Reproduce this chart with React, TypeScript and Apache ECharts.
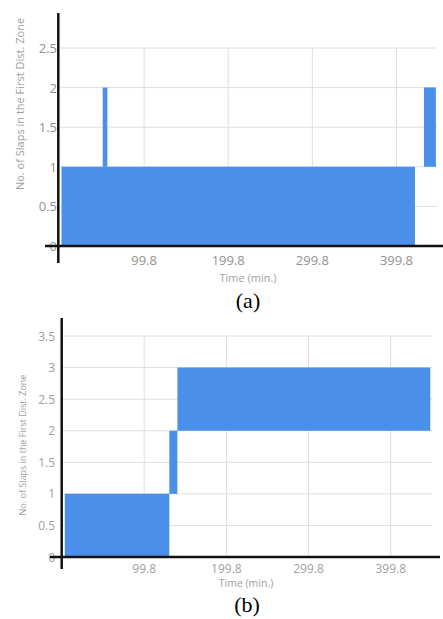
import React, { useEffect, useRef } from "react";
import * as echarts from "echarts";

// ---- data ----
const xTickLabels = [99.8, 199.8, 299.8, 399.8];
const xMin = -0.2;
const xMaxA = 448;
const xMaxB = 450;
const yTicksA = [0, 0.5, 1, 1.5, 2, 2.5];
const yTicksB = [0, 0.5, 1, 1.5, 2, 2.5, 3, 3.5];
// [startTime, endTime, lowCount, highCount]
const blocksA = [
  [1.6, 421.8, 0, 1],
  [50.6, 56.1, 1, 2],
  [432.5, 446.7, 1, 2],
];
const blocksB = [
  [3.2, 130.4, 0, 1],
  [130.4, 140.2, 1, 2],
  [140.2, 447.9, 2, 3],
];
const yTitle = "No. of Slaps in the First Dist. Zone";
const xTitle = "Time (min.)";

const BLUE = "#4A8FEA";
const GRID = "#dedede";
const FONT = "'Open Sans', sans-serif";

function rectRender(params: any, api: any) {
  const p0 = api.coord([api.value(0), api.value(3)]);
  const p1 = api.coord([api.value(1), api.value(2)]);
  return {
    type: "rect",
    shape: { x: p0[0], y: p0[1], width: p1[0] - p0[0], height: p1[1] - p0[1] },
    style: { fill: BLUE },
  };
}

function hLineRender(params: any, api: any) {
  const y = api.coord([api.value(0), api.value(1)])[1];
  const cs = params.coordSys;
  return {
    type: "line",
    shape: { x1: cs.x, y1: y, x2: cs.x + cs.width, y2: y },
    style: { stroke: GRID, lineWidth: 1 },
  };
}

function vLineRender(params: any, api: any) {
  const x = api.coord([api.value(0), api.value(1)])[0];
  const cs = params.coordSys;
  return {
    type: "line",
    shape: { x1: x, y1: cs.y, x2: x, y2: cs.y + cs.height },
    style: { stroke: GRID, lineWidth: 1 },
  };
}

function axesRender(ext: number[]) {
  // ext: [yAxisDx, topExt, bottomExt, xLeftExt, xRightEnd]
  return (params: any) => {
    const cs = params.coordSys;
    const bottom = cs.y + cs.height;
    return {
      type: "group",
      children: [
        {
          type: "line",
          shape: { x1: cs.x + ext[0], y1: cs.y - ext[1], x2: cs.x + ext[0], y2: bottom + ext[2] },
          style: { stroke: "#111", lineWidth: 2.5 },
        },
        {
          type: "line",
          shape: { x1: cs.x - ext[3], y1: bottom, x2: ext[4], y2: bottom },
          style: { stroke: "#111", lineWidth: 2.5 },
        },
      ],
    };
  };
}

const xFmt = (v: number) => {
  const r = Math.round(v * 10) / 10;
  return xTickLabels.includes(r) ? r.toFixed(1) : "";
};

export default function App() {
  const ref = useRef<HTMLDivElement>(null);
  useEffect(() => {
    if (!ref.current) return;
    const chart = echarts.init(ref.current, null, { renderer: "svg" });
    chart.setOption({
      animation: false,
      backgroundColor: "#ffffff",
      grid: [
        { left: 60, right: 6, top: 48, bottom: 373 },
        { left: 62, right: 11, top: 336, bottom: 62 },
      ],
      xAxis: [
        {
          gridIndex: 0, type: "value", min: xMin, max: xMaxA, interval: 100,
          axisLine: { show: false }, axisTick: { show: false }, splitLine: { show: false },
          axisLabel: { formatter: xFmt, color: "#929292", fontSize: 13, margin: 7, fontFamily: FONT },
        },
        {
          gridIndex: 1, type: "value", min: xMin, max: xMaxB, interval: 100,
          axisLine: { show: false }, axisTick: { show: false }, splitLine: { show: false },
          axisLabel: { formatter: xFmt, color: "#a0a0a0", fontSize: 12, margin: 5, fontFamily: FONT },
        },
      ],
      yAxis: [
        {
          gridIndex: 0, type: "value", min: 0, max: 2.5, interval: 0.5,
          axisLine: { show: false }, axisTick: { show: false }, splitLine: { show: false },
          axisLabel: { color: "#929292", fontSize: 13, margin: 3, fontFamily: FONT, padding: [0, 0, 4, 0] },
        },
        {
          gridIndex: 1, type: "value", min: 0, max: 3.5, interval: 0.5,
          axisLabel: { color: "#a0a0a0", fontSize: 12, margin: 7, fontFamily: FONT, padding: [0, 0, 3, 0] },
          axisLine: { show: false }, axisTick: { show: false }, splitLine: { show: false },
        },
      ],
      series: [
        {
          type: "custom", xAxisIndex: 0, yAxisIndex: 0, z: 1, silent: true,
          renderItem: hLineRender, encode: { x: 0, y: 1 },
          data: yTicksA.slice(1).map((v) => [xMin, v]),
        },
        {
          type: "custom", xAxisIndex: 0, yAxisIndex: 0, z: 1, silent: true,
          renderItem: vLineRender, encode: { x: 0, y: 1 },
          data: xTickLabels.map((v) => [v, 0]),
        },
        {
          type: "custom", xAxisIndex: 0, yAxisIndex: 0, z: 2,
          renderItem: rectRender, encode: { x: [0, 1], y: [2, 3] },
          data: blocksA,
        },
        {
          type: "custom", xAxisIndex: 0, yAxisIndex: 0, z: 3, silent: true,
          renderItem: axesRender([-1.7, 35, 17, 15, 443]), encode: { x: 0, y: 1 },
          data: [[xMin, 0]],
        },
        {
          type: "custom", xAxisIndex: 1, yAxisIndex: 1, z: 1, silent: true,
          renderItem: hLineRender, encode: { x: 0, y: 1 },
          data: yTicksB.slice(1).map((v) => [xMin, v]),
        },
        {
          type: "custom", xAxisIndex: 1, yAxisIndex: 1, z: 1, silent: true,
          renderItem: vLineRender, encode: { x: 0, y: 1 },
          data: xTickLabels.map((v) => [v, 0]),
        },
        {
          type: "custom", xAxisIndex: 1, yAxisIndex: 1, z: 2,
          renderItem: rectRender, encode: { x: [0, 1], y: [2, 3] },
          data: blocksB,
        },
        {
          type: "custom", xAxisIndex: 1, yAxisIndex: 1, z: 3, silent: true,
          renderItem: axesRender([-0.3, 18, 12, 12, 440]), encode: { x: 0, y: 1 },
          data: [[xMin, 0]],
        },
      ],
      graphic: [
        {
          type: "text", x: 19, y: 104, rotation: Math.PI / 2,
          style: { text: yTitle, fill: "#a0a0a0", font: `11px ${FONT}`, textAlign: "center", textVerticalAlign: "middle" },
        },
        {
          type: "text", x: 22, y: 445, rotation: Math.PI / 2,
          style: { text: yTitle, fill: "#a0a0a0", font: `9px ${FONT}`, textAlign: "center", textVerticalAlign: "middle" },
        },
        {
          type: "text", x: 248, y: 277,
          style: { text: xTitle, fill: "#a0a0a0", font: `11px ${FONT}`, textAlign: "center", textVerticalAlign: "middle" },
        },
        {
          type: "text", x: 246, y: 583,
          style: { text: xTitle, fill: "#a0a0a0", font: `10.5px ${FONT}`, textAlign: "center", textVerticalAlign: "middle" },
        },
        {
          type: "text", x: 248, y: 300,
          style: { text: "(a)", fill: "#000", font: `22px 'Liberation Serif', serif`, textAlign: "center", textVerticalAlign: "middle" },
        },
        {
          type: "text", x: 247, y: 604,
          style: { text: "(b)", fill: "#000", font: `22px 'Liberation Serif', serif`, textAlign: "center", textVerticalAlign: "middle" },
        },
      ],
    });
    return () => chart.dispose();
  }, []);
  return (
    <div
      ref={ref}
      style={{ position: "fixed", left: 0, top: 0, width: 443, height: 619 }}
    />
  );
}
